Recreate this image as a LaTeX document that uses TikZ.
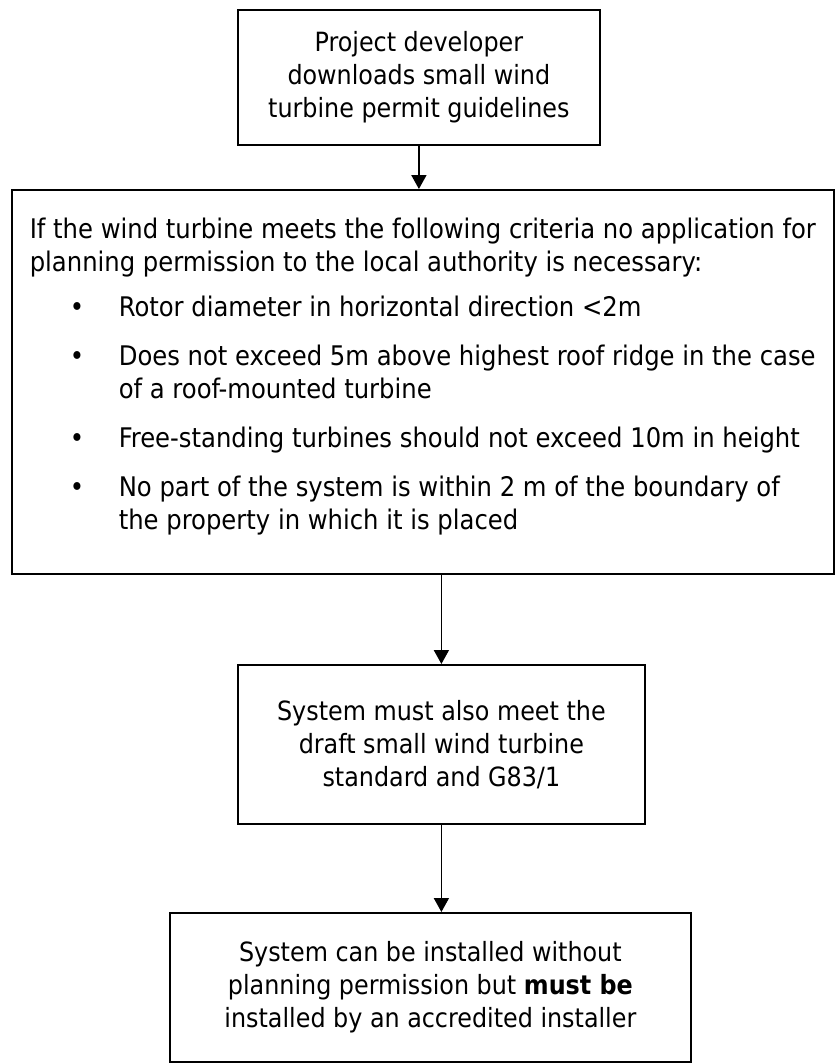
\documentclass[tikz,border=0pt]{standalone}
\usepackage{fontspec}
\setmainfont{DejaVu Sans Condensed}
\usetikzlibrary{arrows.meta}
\begin{document}
\begin{tikzpicture}[x=1pt,y=-1pt,
  box/.style={draw, line width=1.8pt, rectangle, anchor=north west,
    inner sep=0pt, font=\fontsize{26.5}{33}\selectfont},
  flow/.style={-{Triangle[length=14pt,width=15pt]}, line width=1.8pt}]
\useasboundingbox (0,0) rectangle (835,1063);

% step 1: guidelines are downloaded
\node[box, minimum width=362pt, minimum height=135pt, align=center]
  (dl) at (237,9)
  {Project developer\\downloads small wind\\turbine permit guidelines};

% step 2: exemption criteria (lines broken by hand, no wrapping)
\node[box, minimum width=822pt, minimum height=384pt, align=left,
  font=\fontsize{27}{33}\selectfont]
  (crit) at (11,189)
  {If the wind turbine meets the following criteria no application for\\
   planning permission to the local authority is necessary:\\[12pt]
   \hspace*{40pt}\makebox[49pt][l]{•}Rotor diameter in horizontal direction <2m\\[16pt]
   \hspace*{40pt}\makebox[49pt][l]{•}Does not exceed 5m above highest roof ridge in the case\\
   \hspace*{89pt}of a roof-mounted turbine\\[16pt]
   \hspace*{40pt}\makebox[49pt][l]{•}Free-standing turbines should not exceed 10m in height\\[16pt]
   \hspace*{40pt}\makebox[49pt][l]{•}No part of the system is within 2 m of the boundary of\\
   \hspace*{89pt}the property in which it is placed\rule[-17pt]{0pt}{0pt}};

% step 3: standards
\node[box, minimum width=407pt, minimum height=159pt, align=center]
  (std) at (237,664)
  {System must also meet the\\draft small wind turbine\\standard and G83/1};

% step 4: installation
\node[box, minimum width=521pt, minimum height=149pt, align=center]
  (inst) at (169,912)
  {System can be installed without\\planning permission but \textbf{must be}\\installed by an accredited installer};

% connectors
\draw[flow] (dl.south) -- (dl.south |- crit.north);
\draw[flow] (std.north |- crit.south) -- (std.north);
\draw[flow] (std.south) -- (std.south |- inst.north);
\end{tikzpicture}
\end{document}
